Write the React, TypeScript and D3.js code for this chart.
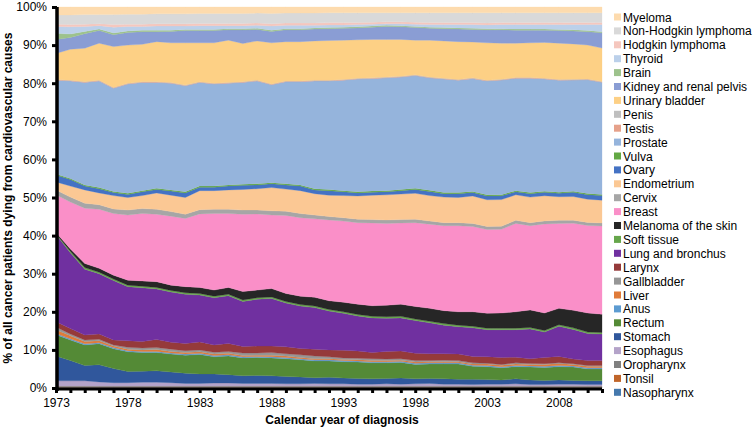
import React, { useEffect, useRef } from 'react';
import * as d3 from 'd3';

const years = [1973, 1974, 1975, 1976, 1977, 1978, 1979, 1980, 1981, 1982, 1983, 1984, 1985, 1986, 1987, 1988, 1989, 1990, 1991, 1992,
  1993, 1994, 1995, 1996, 1997, 1998, 1999, 2000, 2001, 2002, 2003, 2004, 2005, 2006, 2007, 2008, 2009, 2010, 2011];

const yearLabels = [1973, 1978, 1983, 1988, 1993, 1998, 2003, 2008];

// % of deaths per cancer site, bottom of the stack first
const nasopharynx = [0.2, 0.2, 0.2, 0.2, 0.2, 0.2, 0.2, 0.2, 0.2, 0.2, 0.2, 0.2, 0.2, 0.2, 0.2, 0.2, 0.2, 0.2, 0.2, 0.2,
  0.2, 0.2, 0.2, 0.2, 0.2, 0.2, 0.2, 0.2, 0.2, 0.2, 0.2, 0.2, 0.2, 0.2, 0.2, 0.2, 0.2, 0.2, 0.2];
const tonsil = [0.1, 0.1, 0.1, 0.1, 0.1, 0.1, 0.1, 0.1, 0.1, 0.1, 0.1, 0.1, 0.1, 0.1, 0.1, 0.1, 0.1, 0.1, 0.1, 0.1,
  0.1, 0.1, 0.1, 0.1, 0.1, 0.1, 0.1, 0.1, 0.1, 0.1, 0.1, 0.1, 0.1, 0.1, 0.1, 0.1, 0.1, 0.1, 0.1];
const oropharynx = [0.2, 0.2, 0.2, 0.2, 0.2, 0.2, 0.2, 0.2, 0.2, 0.2, 0.2, 0.2, 0.2, 0.2, 0.2, 0.2, 0.2, 0.2, 0.2, 0.2,
  0.2, 0.2, 0.2, 0.2, 0.2, 0.2, 0.2, 0.2, 0.2, 0.2, 0.2, 0.2, 0.2, 0.2, 0.2, 0.2, 0.2, 0.2, 0.2];
const esophagus = [1.4, 1.4, 1.4, 1.1, 0.9, 0.9, 1.0, 1.0, 0.9, 0.7, 0.7, 0.8, 0.8, 0.7, 0.7, 0.7, 0.6, 0.6, 0.7, 0.6,
  0.6, 0.5, 0.5, 0.6, 0.5, 0.6, 0.7, 0.5, 0.5, 0.4, 0.5, 0.5, 0.6, 0.4, 0.4, 0.5, 0.5, 0.4, 0.4];
const stomach = [6.5, 5.3, 4.0, 4.5, 3.7, 2.9, 2.9, 3.0, 2.8, 2.7, 2.5, 2.4, 2.2, 2.0, 2.1, 2.0, 1.9, 1.8, 1.5, 1.7,
  1.5, 1.5, 1.4, 1.4, 1.6, 1.3, 1.3, 1.4, 1.3, 1.4, 1.2, 1.1, 1.3, 1.2, 1.1, 1.1, 1.0, 1.0, 1.0];
const rectum = [5.6, 5.4, 5.4, 5.5, 5.2, 5.2, 4.9, 4.8, 4.7, 4.7, 5.1, 4.5, 4.9, 4.7, 4.7, 4.7, 4.7, 4.5, 4.4, 4.3,
  4.3, 4.3, 4.2, 4.1, 4.1, 3.8, 3.8, 3.9, 4.0, 3.4, 3.4, 3.2, 3.2, 3.4, 3.4, 3.5, 3.5, 3.1, 3.1];
const anus = [0.3, 0.3, 0.3, 0.3, 0.3, 0.3, 0.3, 0.3, 0.3, 0.3, 0.3, 0.3, 0.3, 0.3, 0.3, 0.3, 0.3, 0.3, 0.3, 0.3,
  0.3, 0.3, 0.3, 0.3, 0.3, 0.3, 0.3, 0.3, 0.3, 0.3, 0.3, 0.3, 0.3, 0.3, 0.3, 0.3, 0.3, 0.3, 0.3];
const liver = [1.0, 0.8, 0.6, 0.5, 0.4, 0.4, 0.4, 0.5, 0.4, 0.4, 0.4, 0.4, 0.4, 0.3, 0.3, 0.4, 0.4, 0.3, 0.3, 0.3,
  0.3, 0.3, 0.3, 0.3, 0.3, 0.3, 0.3, 0.3, 0.3, 0.3, 0.4, 0.4, 0.4, 0.4, 0.5, 0.5, 0.4, 0.4, 0.4];
const gallbladder = [0.7, 0.5, 0.4, 0.4, 0.3, 0.5, 0.5, 0.5, 0.6, 0.5, 0.5, 0.5, 0.5, 0.7, 0.6, 0.7, 0.6, 0.7, 0.7, 0.5,
  0.4, 0.4, 0.5, 0.4, 0.4, 0.4, 0.3, 0.4, 0.3, 0.3, 0.2, 0.2, 0.3, 0.2, 0.2, 0.2, 0.2, 0.2, 0.2];
const larynx = [1.4, 1.4, 1.3, 1.4, 1.3, 1.7, 1.7, 2.1, 1.8, 1.9, 2.1, 1.9, 2.1, 1.7, 1.8, 1.7, 1.8, 1.7, 1.8, 1.8,
  2.0, 1.9, 1.6, 2.0, 2.0, 1.9, 1.8, 1.7, 1.7, 1.7, 1.7, 1.8, 1.5, 1.3, 1.6, 1.7, 1.2, 1.3, 1.3];
const lung = [22.9, 19.9, 17.3, 15.8, 15.6, 14.2, 14.1, 13.3, 13.2, 12.9, 12.3, 12.4, 12.5, 11.8, 12.3, 12.5, 11.5, 11.1, 10.9, 10.2,
  9.7, 9.2, 9.1, 8.7, 8.7, 8.6, 8.1, 7.5, 7.2, 7.5, 7.1, 7.3, 7.2, 7.8, 6.7, 7.9, 7.8, 7.1, 7.0];
const softTissue = [0.2, 0.4, 0.4, 0.4, 0.4, 0.4, 0.4, 0.4, 0.4, 0.4, 0.4, 0.4, 0.4, 0.4, 0.4, 0.4, 0.4, 0.4, 0.4, 0.4,
  0.4, 0.4, 0.4, 0.4, 0.4, 0.4, 0.4, 0.4, 0.4, 0.4, 0.4, 0.4, 0.4, 0.4, 0.4, 0.4, 0.4, 0.4, 0.4];
const melanoma = [0.3, 0.6, 1.1, 1.0, 1.0, 1.3, 1.4, 1.5, 1.4, 1.6, 1.6, 1.6, 1.8, 2.2, 2.0, 2.2, 2.1, 2.2, 2.3, 2.3,
  2.5, 2.7, 2.8, 3.0, 3.2, 3.3, 3.4, 3.4, 3.5, 3.8, 3.9, 4.0, 4.3, 4.6, 4.6, 4.3, 4.6, 5.0, 4.8];
const breast = [9.9, 12.3, 14.5, 15.5, 16.2, 17.1, 17.7, 17.7, 18.1, 17.9, 19.3, 20.1, 19.4, 20.3, 20.0, 19.3, 20.5, 20.6, 20.6, 21.2,
  21.3, 21.4, 21.7, 21.5, 21.3, 22.0, 22.1, 22.3, 22.6, 22.4, 22.0, 22.0, 23.2, 22.1, 23.4, 22.3, 22.9, 23.0, 23.2];
const cervix = [1.3, 1.3, 1.3, 1.2, 1.2, 1.3, 1.3, 1.3, 1.2, 1.1, 1.1, 1.1, 1.1, 1.1, 1.0, 1.1, 1.1, 1.1, 1.0, 0.9,
  0.9, 0.9, 0.9, 0.9, 0.9, 0.9, 0.8, 0.8, 0.8, 0.8, 0.8, 0.8, 0.8, 0.8, 0.8, 0.8, 0.8, 0.8, 0.8];
const endometrium = [2.1, 2.9, 3.5, 3.1, 3.5, 3.3, 3.4, 4.3, 4.3, 4.4, 5.0, 4.9, 5.1, 5.4, 5.6, 6.1, 5.8, 6.0, 5.6, 5.6,
  5.8, 6.1, 6.4, 6.6, 6.7, 6.8, 6.7, 6.7, 6.6, 7.2, 7.0, 7.0, 6.7, 6.7, 6.6, 6.2, 6.2, 6.1, 6.0];
const ovary = [1.8, 1.7, 1.0, 1.1, 0.8, 0.8, 1.0, 0.9, 1.1, 1.2, 0.9, 0.9, 1.0, 1.1, 1.0, 1.0, 1.1, 1.2, 1.0, 1.2,
  1.0, 0.8, 0.8, 0.8, 0.9, 1.0, 1.1, 0.9, 1.0, 0.9, 1.0, 1.0, 0.8, 0.9, 0.9, 0.9, 1.1, 1.2, 1.2];
const vulva = [0.3, 0.3, 0.3, 0.3, 0.3, 0.3, 0.3, 0.3, 0.3, 0.3, 0.3, 0.3, 0.3, 0.3, 0.3, 0.3, 0.3, 0.3, 0.3, 0.3,
  0.3, 0.3, 0.3, 0.3, 0.3, 0.3, 0.3, 0.3, 0.3, 0.3, 0.3, 0.3, 0.3, 0.3, 0.3, 0.3, 0.3, 0.3, 0.3];
const prostate = [24.6, 25.6, 26.9, 28.0, 27.1, 28.7, 28.4, 27.8, 28.0, 27.8, 27.2, 26.8, 26.7, 26.7, 27.0, 25.7, 26.8, 27.1, 28.3, 28.5,
  29.0, 29.6, 29.5, 29.6, 29.5, 29.6, 29.5, 29.8, 29.5, 29.6, 29.9, 30.1, 29.5, 30.0, 29.5, 29.4, 29.2, 29.9, 29.5];
const testis = [0.1, 0.1, 0.1, 0.1, 0.1, 0.1, 0.1, 0.1, 0.1, 0.1, 0.1, 0.1, 0.1, 0.1, 0.1, 0.1, 0.1, 0.1, 0.1, 0.1,
  0.1, 0.1, 0.1, 0.1, 0.1, 0.1, 0.1, 0.1, 0.1, 0.1, 0.1, 0.1, 0.1, 0.1, 0.1, 0.1, 0.1, 0.1, 0.1];
const penis = [0.1, 0.1, 0.1, 0.1, 0.1, 0.1, 0.1, 0.1, 0.1, 0.1, 0.1, 0.1, 0.1, 0.1, 0.1, 0.1, 0.1, 0.1, 0.1, 0.1,
  0.1, 0.1, 0.1, 0.1, 0.1, 0.1, 0.1, 0.1, 0.1, 0.1, 0.1, 0.1, 0.1, 0.1, 0.1, 0.1, 0.1, 0.1, 0.1];
const bladder = [6.8, 8.1, 8.8, 9.7, 10.7, 10.0, 9.8, 10.5, 10.4, 11.1, 10.2, 10.6, 11.1, 10.0, 10.3, 10.8, 10.3, 10.3, 10.3, 10.4,
  10.3, 10.1, 10.1, 9.9, 9.7, 9.1, 9.7, 9.8, 9.9, 9.4, 9.8, 9.5, 9.0, 9.1, 9.4, 9.5, 9.3, 8.9, 8.8];
const kidney = [3.7, 3.1, 3.8, 3.3, 3.1, 3.3, 3.3, 2.6, 3.0, 3.2, 3.2, 3.2, 2.7, 3.6, 3.0, 3.0, 3.1, 3.1, 3.1, 3.1,
  3.1, 3.1, 3.2, 3.4, 3.3, 3.3, 3.1, 3.2, 3.3, 3.3, 3.4, 3.5, 3.4, 3.3, 3.2, 3.3, 3.4, 3.5, 4.0];
const brain = [1.6, 0.9, 0.6, 0.4, 0.5, 0.4, 0.4, 0.4, 0.3, 0.3, 0.3, 0.3, 0.3, 0.3, 0.3, 0.3, 0.3, 0.3, 0.3, 0.3,
  0.3, 0.3, 0.3, 0.3, 0.3, 0.3, 0.3, 0.3, 0.3, 0.3, 0.3, 0.3, 0.3, 0.3, 0.3, 0.3, 0.3, 0.3, 0.3];
const thyroid = [1.8, 1.9, 1.3, 0.9, 1.5, 1.2, 1.0, 1.1, 1.1, 0.9, 1.0, 1.0, 0.8, 0.8, 0.8, 1.1, 0.9, 0.9, 0.7, 0.7,
  0.6, 0.6, 0.5, 0.4, 0.5, 0.6, 0.7, 0.8, 0.9, 1.0, 1.0, 1.1, 1.2, 1.2, 1.2, 1.3, 1.4, 1.6, 1.9];
const hodgkin = [0.6, 0.6, 0.6, 0.5, 0.7, 0.6, 0.6, 0.6, 0.6, 0.6, 0.6, 0.6, 0.6, 0.6, 0.6, 0.6, 0.6, 0.6, 0.6, 0.6,
  0.6, 0.5, 0.5, 0.5, 0.5, 0.5, 0.5, 0.5, 0.5, 0.5, 0.5, 0.5, 0.5, 0.5, 0.5, 0.5, 0.5, 0.5, 0.5];
const nonHodgkin = [2.4, 2.5, 2.5, 2.4, 2.6, 2.6, 2.6, 2.6, 2.6, 2.6, 2.6, 2.6, 2.6, 2.6, 2.6, 2.7, 2.6, 2.6, 2.6, 2.6,
  2.6, 2.6, 2.5, 2.4, 2.4, 2.5, 2.6, 2.6, 2.6, 2.6, 2.7, 2.6, 2.6, 2.6, 2.6, 2.6, 2.6, 2.6, 2.6];
const myeloma = [2.1, 2.1, 2.0, 2.0, 2.0, 1.9, 1.9, 1.8, 1.8, 1.8, 1.7, 1.7, 1.7, 1.7, 1.6, 1.7, 1.6, 1.6, 1.6, 1.5,
  1.5, 1.5, 1.5, 1.5, 1.5, 1.5, 1.5, 1.5, 1.5, 1.5, 1.5, 1.5, 1.5, 1.5, 1.5, 1.5, 1.5, 1.5, 1.5];

const series = [
  { name: 'Nasopharynx', values: nasopharynx, color: '#4579ad' },
  { name: 'Tonsil', values: tonsil, color: '#c0652a' },
  { name: 'Oropharynx', values: oropharynx, color: '#808080' },
  { name: 'Esophagus', values: esophagus, color: '#b4a3c9' },
  { name: 'Stomach', values: stomach, color: '#30579c' },
  { name: 'Rectum', values: rectum, color: '#548a36' },
  { name: 'Anus', values: anus, color: '#5c9bd1' },
  { name: 'Liver', values: liver, color: '#e07b39' },
  { name: 'Gallbladder', values: gallbladder, color: '#969696' },
  { name: 'Larynx', values: larynx, color: '#953a3a' },
  { name: 'Lung and bronchus', values: lung, color: '#7030a0' },
  { name: 'Soft tissue', values: softTissue, color: '#66a64b' },
  { name: 'Melanoma of the skin', values: melanoma, color: '#262626' },
  { name: 'Breast', values: breast, color: '#fa8fc8' },
  { name: 'Cervix', values: cervix, color: '#a6a6a6' },
  { name: 'Endometrium', values: endometrium, color: '#fbc894' },
  { name: 'Ovary', values: ovary, color: '#4472c4' },
  { name: 'Vulva', values: vulva, color: '#63a844' },
  { name: 'Prostate', values: prostate, color: '#95b4dc' },
  { name: 'Testis', values: testis, color: '#e6a18a' },
  { name: 'Penis', values: penis, color: '#bfbfbf' },
  { name: 'Urinary bladder', values: bladder, color: '#fdd085' },
  { name: 'Kidney and renal pelvis', values: kidney, color: '#8a9dd4' },
  { name: 'Brain', values: brain, color: '#9dc28c' },
  { name: 'Thyroid', values: thyroid, color: '#bbd0ea' },
  { name: 'Hodgkin lymphoma', values: hodgkin, color: '#f5c7be' },
  { name: 'Non-Hodgkin lymphoma', values: nonHodgkin, color: '#d9d9d9' },
  { name: 'Myeloma', values: myeloma, color: '#fddbae' },
];

const FONT = '"Liberation Sans", Arial, sans-serif';

export default function App() {
  const ref = useRef(null);
  const width = 753;
  const height = 430;
  const margin = { top: 7, right: 150, bottom: 42, left: 56 };

  useEffect(() => {
    const svg = d3.select(ref.current);
    svg.selectAll('*').remove();

    const rows = years.map((yr, i) => {
      const row = { year: yr };
      series.forEach(s => { row[s.name] = s.values[i]; });
      return row;
    });

    const stacked = d3.stack()
      .keys(series.map(s => s.name))
      .offset(d3.stackOffsetExpand)(rows);

    const x = d3.scaleLinear().domain([1973, 2011]).range([margin.left, 602]);
    const y = d3.scaleLinear().domain([0, 1]).range([height - 42, margin.top]);

    const area = d3.area()
      .x(d => x(d.data.year))
      .y0(d => y(d[0]))
      .y1(d => y(d[1]));

    svg.append('g')
      .selectAll('path')
      .data(stacked)
      .enter().append('path')
      .attr('d', area)
      .attr('fill', (_, i) => series[i].color)
      .attr('stroke', (_, i) => series[i].color)
      .attr('stroke-width', 0.3);

    // y axis
    const yAxis = svg.append('g')
      .attr('transform', `translate(${margin.left + 1},0)`)
      .call(d3.axisLeft(y).tickValues(d3.range(0, 1.001, 0.1)).tickFormat(d3.format('.0%')).tickSize(5).tickPadding(5));
    yAxis.select('.domain').attr('stroke', '#000').attr('stroke-width', 3.5).attr('d', `M0,${y(1)}V${y(0) + 3}`);
    yAxis.selectAll('.tick line').attr('stroke', '#000').attr('stroke-width', 3);
    yAxis.selectAll('text').attr('font-family', FONT).attr('font-size', 12).attr('fill', '#000');

    // x axis
    const xAxis = svg.append('g')
      .attr('transform', `translate(0,${y(0) + 1})`)
      .call(d3.axisBottom(x).tickValues(years).tickSize(4).tickPadding(5)
        .tickFormat(d => (yearLabels.includes(d) ? String(d) : '')));
    xAxis.select('.domain').attr('stroke', '#000').attr('stroke-width', 3).attr('d', `M${margin.left - 1},0H${x(2011)}`);
    xAxis.selectAll('.tick line').attr('stroke', '#000').attr('stroke-width', 3);
    xAxis.selectAll('text').attr('font-family', FONT).attr('font-size', 12).attr('fill', '#000');

    // axis titles
    svg.append('text')
      .attr('x', 342).attr('y', 424)
      .attr('text-anchor', 'middle')
      .attr('font-family', FONT).attr('font-size', 12).attr('font-weight', 'bold')
      .text('Calendar year of diagnosis');

    svg.append('text')
      .attr('transform', 'translate(12,198) rotate(-90)')
      .attr('text-anchor', 'middle')
      .attr('font-family', FONT).attr('font-size', 12).attr('font-weight', 'bold')
      .text('% of all cancer patients dying from cardiovascular causes');

    // legend, top entry is the top of the stack
    const legend = svg.append('g').attr('transform', 'translate(614,17)');
    const items = legend.selectAll('g')
      .data(series.slice().reverse())
      .enter().append('g')
      .attr('transform', (_, i) => `translate(0,${i * 13.9})`);
    items.append('rect')
      .attr('x', 0).attr('y', -3.5).attr('width', 7).attr('height', 7)
      .attr('fill', d => d.color);
    items.append('text')
      .attr('x', 9).attr('y', 4.5)
      .attr('font-family', FONT).attr('font-size', 12).attr('fill', '#000')
      .text(d => d.name);
  }, []);

  return (
    <svg ref={ref} width={width} height={height}
      style={{ position: 'absolute', left: 0, top: 0, background: '#fff' }} />
  );
}
